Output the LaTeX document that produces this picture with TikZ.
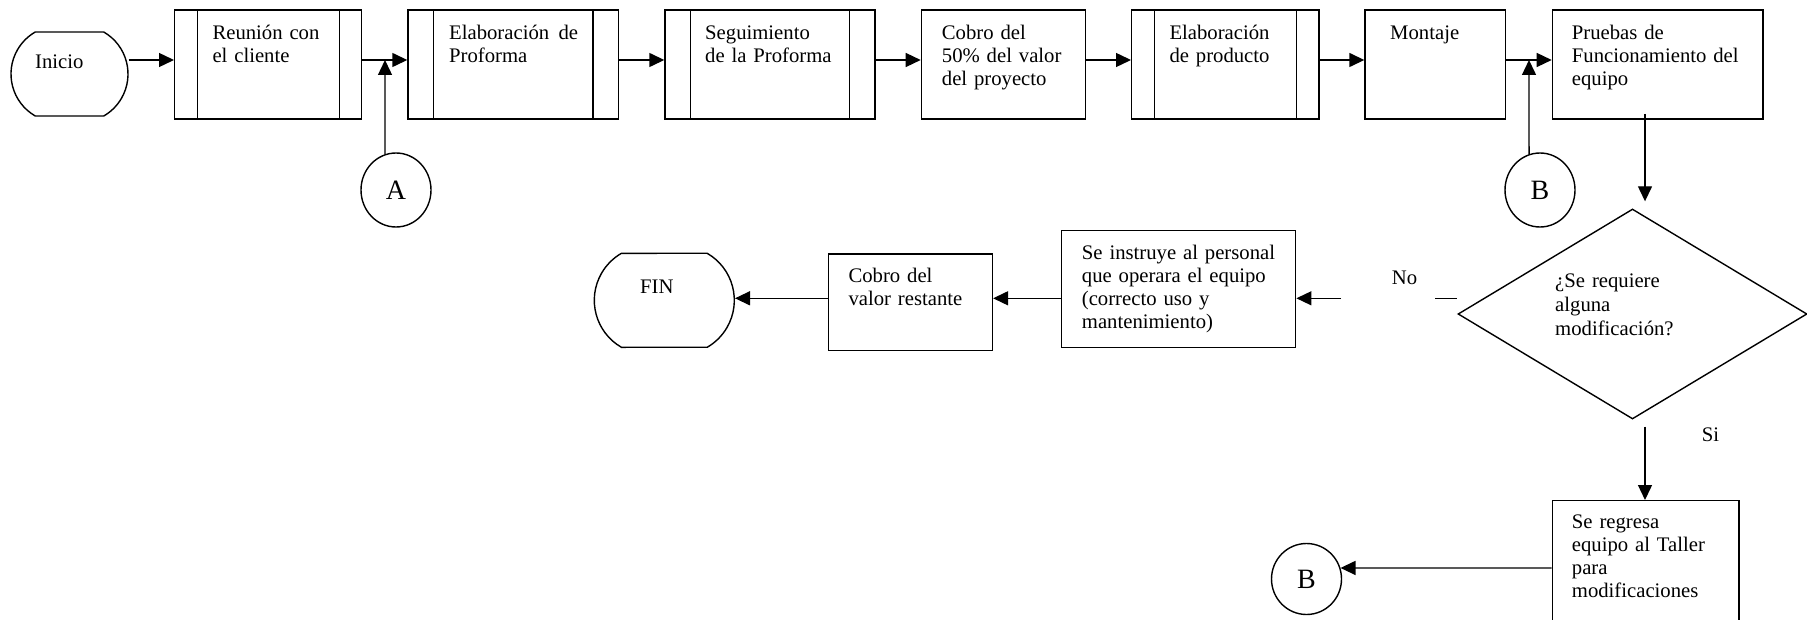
\documentclass[tikz,border=0pt]{standalone}
\usepackage{fontspec}
\setmainfont{Liberation Serif}
\usetikzlibrary{arrows.meta,shapes.geometric,shapes.misc}
\begin{document}
\begin{tikzpicture}[x=1pt,y=-1pt,
  lw/.style={line width=1.4pt},
  box/.style={draw, lw, rectangle, inner sep=0pt, anchor=north west, minimum height=109pt},
  subproc/.style={box, path picture={\draw[lw] ([xshift=#1]path picture bounding box.south west) -- ([xshift=#1]path picture bounding box.north west) ([xshift=-#1]path picture bounding box.south east) -- ([xshift=-#1]path picture bounding box.north east);}},
  term/.style={draw, lw, rounded rectangle, rounded rectangle arc length=120, inner sep=0pt},
  conn/.style={draw, lw, ellipse, minimum width=70pt, minimum height=74pt, inner sep=0pt, font=\fontsize{28}{30}\selectfont},
  txt/.style={anchor=base west, inner sep=0pt, text width=260pt, align=left, font=\fontsize{20.7}{23}\selectfont},
  arr/.style={lw, -{Triangle[length=15pt,width=14pt]}},
]
\fill[white] (0,0) rectangle (1807,620);
\clip (0,0) rectangle (1807,620);

% coordinates for connector rows
\coordinate (row) at (0,60);
\coordinate (dx) at (1645,0);
\coordinate (jA) at (385,60);
\coordinate (jB) at (1529,60);
\coordinate (no1) at (1435,298.3);
\coordinate (no2) at (1341,298.3);
\coordinate (rowB) at (0,568);

% top row
\node[term, minimum width=117pt, minimum height=84pt] (inicio) at (69.5,74) {};
\node[subproc=22.5pt, minimum width=187pt] (reunion) at (174,9.5) {};
\node[subproc=25.5pt, minimum width=210.4pt] (elab) at (407.3,9.5) {};
\node[subproc=25.5pt, minimum width=210pt] (seg) at (664.3,9.5) {};
\node[box, minimum width=164.3pt] (cobro) at (920.7,9.5) {};
\node[subproc=22.7pt, minimum width=187.3pt] (elabprod) at (1131,9.5) {};
\node[box, minimum width=140.7pt] (montaje) at (1364.3,9.5) {};
\node[box, minimum width=210.6pt] (pruebas) at (1551.7,9.5) {};

\node[conn] (A) at (396,190) {A};
\node[conn] (B1) at (1540,190) {B};

% decision
\node[draw, lw, diamond, minimum width=349pt, minimum height=210pt, inner sep=0pt] (diam) at (1632.5,314) {};
\node[box, minimum width=186.6pt, minimum height=160pt] (regresa) at (1551.7,500) {};
\node[conn, minimum height=71pt] (B2) at (1306.5,579) {B};

% bottom chain
\node[box, minimum width=234pt, minimum height=116.7pt] (instruye) at (1061,230) {};
\node[box, minimum width=164pt, minimum height=96.7pt] (cobrorest) at (827.7,253.3) {};
\node[term, minimum width=140pt, minimum height=94pt] (fin) at (664.3,300.3) {};

% texts
\node[txt] (tinicio) at (35,68.5) {Inicio};
\node[txt] (treunion) at (212.3,40) {Reunión con\\el cliente};
\node[txt] (telab) at (449,40) {Elaboración\hspace{0.12em} de\\Proforma};
\node[txt] (tseg) at (705,40) {Seguimiento\\de la Proforma};
\node[txt] (tcobro) at (941.7,40) {Cobro del\\50\% del valor\\del proyecto};
\node[txt] (telabprod) at (1169.3,40) {Elaboración\\de producto};
\node[txt] (tmontaje) at (1390,40) {Montaje};
\node[txt] (tpruebas) at (1571.7,40) {Pruebas de\\Funcionamiento del\\equipo};
\node[txt, font=\fontsize{20.7}{24}\selectfont] (tdiam) at (1555,287.3) {¿Se requiere\\alguna\\modificación?};
\node[txt] (tno) at (1391.7,284.5) {No};
\node[txt] (tsi) at (1701.7,441) {Si};
\node[txt] (tregresa) at (1571.7,528) {Se regresa\\equipo al Taller\\para\\modificaciones};
\node[txt] (tinstruye) at (1081.7,260) {Se instruye al personal\\que operara el equipo\\(correcto uso y\\mantenimiento)};
\node[txt] (tcobrorest) at (848.3,282.7) {Cobro del\\valor restante};
\node[txt] (tfin) at (640,294) {FIN};

% connectors top row
\draw[arr] (inicio.east |- row) -- (reunion.west |- row);
\draw[arr] (reunion.east |- row) -- (elab.west |- row);
\draw[arr] (A.107) -- (jA);
\draw[arr] (elab.east |- row) -- (seg.west |- row);
\draw[arr] (seg.east |- row) -- (cobro.west |- row);
\draw[arr] (cobro.east |- row) -- (elabprod.west |- row);
\draw[arr] (elabprod.east |- row) -- (montaje.west |- row);
\draw[arr] (montaje.east |- row) -- (pruebas.west |- row);
\draw[arr] (B1.107) -- (jB);

% vertical
\draw[arr, shorten <=-6pt, shorten >=7pt] (dx |- pruebas.south) -- (dx |- diam.north);
\draw[arr, shorten <=7pt] (dx |- diam.south) -- (dx |- regresa.north);
\draw[arr] (regresa.west |- rowB) -- (B2.18);

% No branch
\draw[lw] (no1) -- (diam.west |- no1);
\draw[arr] (no2) -- (instruye.east |- no2);
\draw[arr] (instruye.west |- no2) -- (cobrorest.east |- no2);
\draw[arr] (cobrorest.west |- no2) -- (fin.east |- no2);
\end{tikzpicture}
\end{document}
